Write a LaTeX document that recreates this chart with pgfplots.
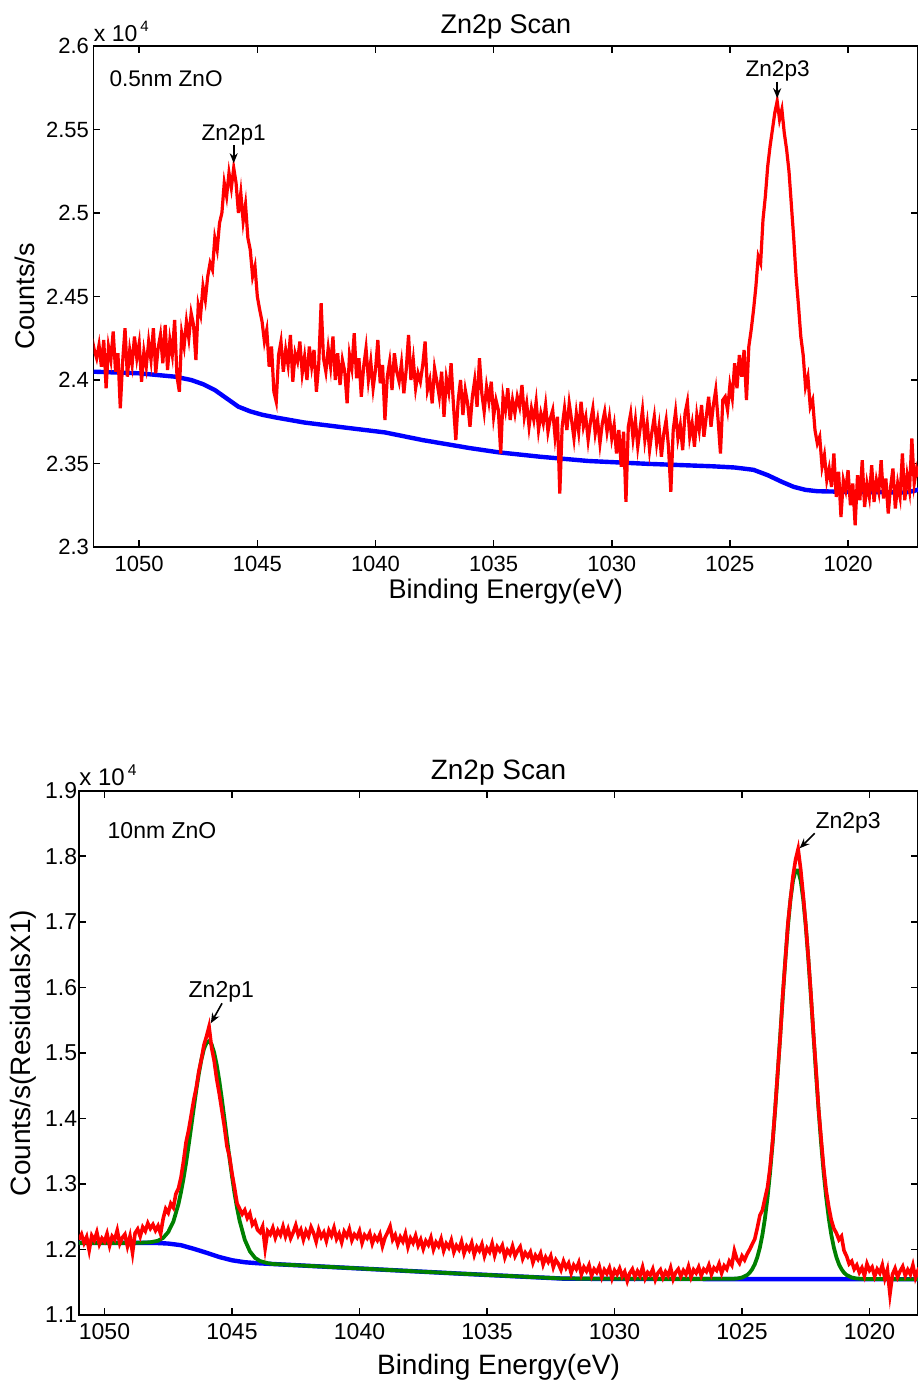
\documentclass[border=0pt]{standalone}
\usepackage{fontspec}
\setmainfont{Liberation Sans}
\usepackage{pgfplots}
\pgfplotsset{compat=1.18}
\usetikzlibrary{arrows.meta}
\definecolor{mred}{RGB}{255,0,0}
\definecolor{mblue}{RGB}{0,0,255}
\definecolor{mgreen}{RGB}{0,128,0}
\pgfplotsset{
  every axis title shift=0pt,
  xpsstyle/.style={
    scale only axis,
    x dir=reverse,
    axis line style={line width=0.9pt},
    every tick/.style={black, line width=0.8pt},
    major tick length=3.4pt,
    tick align=inside,
    /pgf/number format/assume math mode=true,
    /pgf/number format/1000 sep={},
    scaled x ticks=false, scaled y ticks=false,
    xtick={1020,1025,...,1050},
    clip mode=individual,
  }
}
\begin{document}
\begin{tikzpicture}
\useasboundingbox (0,0) rectangle (458.5pt,690pt);
% ---------------- TOP ----------------
\begin{axis}[xpsstyle,
  at={(46.8pt,416.5pt)}, anchor=south west,
  width=412.2pt, height=250.5pt,
  xmin=1017.04, xmax=1051.93, ymin=23000, ymax=26000,
  ytick={23000,23500,24000,24500,25000,25500,26000},
  yticklabels={2.3,2.35,2.4,2.45,2.5,2.55,2.6},
  tick label style={font=\fontsize{11}{13}\selectfont},
  xticklabel style={yshift=-1.2pt},
  yticklabel style={xshift=1.2pt},
  title={Zn2p Scan},
  title style={font=\fontsize{13.5}{15}\selectfont, at={(axis description cs:0.5,1.0253)}, anchor=base},
  xlabel={Binding Energy(eV)},
  xlabel style={font=\fontsize{13.5}{15}\selectfont, at={(axis description cs:0.5,-0.1024)}, anchor=base},
  ylabel={Counts/s},
  ylabel style={font=\fontsize{13.5}{15}\selectfont, at={(axis description cs:-0.0711,0.5)}, anchor=base},
]
\addplot[mblue, line width=2.2pt] coordinates {
(1052,24050)(1050,24040)(1048.5,24020)(1047.8,24000)(1047.3,23975)(1046.8,23940)(1046.3,23890)(1045.8,23840)(1045.3,23812)(1044.8,23792)(1044.2,23775)(1043,23745)(1041,23710)(1039.6,23686)(1038,23640)(1036,23592)(1034.8,23567)(1033,23540)(1031,23515)(1028.5,23498)(1025.7,23483)(1024.8,23476)(1024.0,23462)(1023.4,23430)(1022.8,23390)(1022.3,23360)(1021.8,23342)(1021.3,23334)(1020,23330)(1017.6,23326)(1017.2,23336)(1017,23345)
};
\addplot[mred, line width=1.6pt] coordinates {
(1052.0,24250)(1051.9,24180)(1051.8,24130)(1051.7,24210)(1051.6,24080)(1051.5,24240)(1051.4,23950)(1051.3,24200)(1051.2,24120)(1051.1,24290)
(1051.0,24050)(1050.9,24160)(1050.8,23830)(1050.7,24110)(1050.6,24310)(1050.5,24020)(1050.4,24180)(1050.3,24090)(1050.2,24260)(1050.1,24130)
(1050.0,24220)(1049.9,23990)(1049.8,24170)(1049.7,24080)(1049.6,24230)(1049.5,24120)(1049.4,24310)(1049.3,24040)(1049.2,24190)(1049.1,24270)
(1049.0,24100)(1048.9,24330)(1048.8,24060)(1048.7,24240)(1048.6,24150)(1048.5,24360)(1048.4,24020)(1048.3,23930)(1048.2,24280)(1048.1,24200)
(1048.0,24350)(1047.9,24250)(1047.8,24400)(1047.7,24330)(1047.6,24120)(1047.5,24450)(1047.4,24390)(1047.3,24560)(1047.2,24480)(1047.1,24620)
(1047.0,24700)(1046.9,24660)(1046.8,24850)(1046.7,24780)(1046.6,24940)(1046.5,25000)(1046.4,25180)(1046.3,25100)(1046.2,25240)(1046.1,25150)
(1046.0,25270)(1045.9,25180)(1045.8,25000)(1045.7,25120)(1045.6,24950)(1045.5,25050)(1045.4,24850)(1045.3,24780)(1045.2,24620)(1045.1,24680)
(1045.0,24500)(1044.9,24420)(1044.8,24350)(1044.7,24230)(1044.6,24300)(1044.5,24080)(1044.4,24200)(1044.3,23930)(1044.2,23870)(1044.1,24150)
(1044.0,24230)(1043.9,24050)(1043.8,24180)(1043.7,24090)(1043.6,24270)(1043.5,23990)(1043.4,24160)(1043.3,24110)(1043.2,24230)(1043.1,24040)
(1043.0,24140)(1042.9,24000)(1042.8,24200)(1042.7,24080)(1042.6,24180)(1042.5,23930)(1042.4,24100)(1042.3,24460)(1042.2,24130)(1042.1,24050)
(1042.0,24190)(1041.9,24080)(1041.8,24260)(1041.7,24000)(1041.6,24160)(1041.5,23970)(1041.4,24120)(1041.3,24050)(1041.2,23860)(1041.1,24150)
(1041.0,24070)(1040.9,24280)(1040.8,24010)(1040.7,24130)(1040.6,23900)(1040.5,24080)(1040.4,24190)(1040.3,24000)(1040.2,24110)(1040.1,23950)
(1040.0,24060)(1039.9,24240)(1039.8,23980)(1039.7,24090)(1039.6,23760)(1039.5,24020)(1039.4,24110)(1039.3,23940)(1039.2,24160)(1039.1,24050)
(1039.0,23990)(1038.9,24100)(1038.8,23920)(1038.7,24060)(1038.6,24270)(1038.5,24000)(1038.4,24120)(1038.3,23950)(1038.2,24040)(1038.1,23990)
(1038.0,24090)(1037.9,24230)(1037.8,23940)(1037.7,24000)(1037.6,23860)(1037.5,24070)(1037.4,23990)(1037.3,23900)(1037.2,24050)(1037.1,23780)
(1037.0,24010)(1036.9,23930)(1036.8,24100)(1036.7,23850)(1036.6,23640)(1036.5,23880)(1036.4,24000)(1036.3,23790)(1036.2,23940)(1036.1,23860)
(1036.0,23720)(1035.9,23900)(1035.8,24000)(1035.7,23840)(1035.6,24130)(1035.5,23920)(1035.4,23810)(1035.3,23960)(1035.2,23870)(1035.1,23990)
(1035.0,23780)(1034.9,23880)(1034.8,23820)(1034.7,23560)(1034.6,23900)(1034.5,23820)(1034.4,23950)(1034.3,23760)(1034.2,23880)(1034.1,23800)
(1034.0,23900)(1033.9,23840)(1033.8,23970)(1033.7,23780)(1033.6,23860)(1033.5,23720)(1033.4,23830)(1033.3,23760)(1033.2,23870)(1033.1,23700)
(1033.0,23800)(1032.9,23740)(1032.8,23850)(1032.7,23690)(1032.6,23770)(1032.5,23820)(1032.4,23660)(1032.3,23780)(1032.2,23320)(1032.1,23720)
(1032.0,23830)(1031.9,23700)(1031.8,23860)(1031.7,23760)(1031.6,23650)(1031.5,23800)(1031.4,23690)(1031.3,23870)(1031.2,23720)(1031.1,23780)
(1031.0,23640)(1030.9,23750)(1030.8,23830)(1030.7,23680)(1030.6,23760)(1030.5,23620)(1030.4,23740)(1030.3,23810)(1030.2,23690)(1030.1,23780)
(1030.0,23650)(1029.9,23730)(1029.8,23560)(1029.7,23700)(1029.6,23480)(1029.5,23690)(1029.4,23270)(1029.3,23720)(1029.2,23800)(1029.1,23650)
(1029.0,23760)(1028.9,23600)(1028.8,23710)(1028.7,23820)(1028.6,23640)(1028.5,23740)(1028.4,23580)(1028.3,23690)(1028.2,23780)(1028.1,23620)
(1028.0,23720)(1027.9,23540)(1027.8,23680)(1027.7,23760)(1027.6,23600)(1027.5,23330)(1027.4,23700)(1027.3,23810)(1027.2,23650)(1027.1,23730)
(1027.0,23580)(1026.9,23800)(1026.8,23870)(1026.7,23660)(1026.6,23740)(1026.5,23600)(1026.4,23790)(1026.3,23700)(1026.2,23850)(1026.1,23660)
(1026.0,23780)(1025.9,23900)(1025.8,23720)(1025.7,23850)(1025.6,23940)(1025.5,23760)(1025.4,23560)(1025.3,23880)(1025.2,23900)(1025.1,23820)
(1025.0,23970)(1024.9,23890)(1024.8,24100)(1024.7,23950)(1024.6,24150)(1024.5,24020)(1024.4,24180)(1024.3,23880)(1024.2,24200)(1024.1,24300)
(1024.0,24420)(1023.9,24560)(1023.8,24740)(1023.7,24700)(1023.6,24960)(1023.5,25100)(1023.4,25280)(1023.3,25400)(1023.2,25500)(1023.1,25600)
(1023.0,25670)(1022.9,25560)(1022.8,25620)(1022.7,25480)(1022.6,25380)(1022.5,25250)(1022.4,25050)(1022.3,24850)(1022.2,24620)(1022.1,24450)
(1022.0,24260)(1021.9,24150)(1021.8,23960)(1021.7,24020)(1021.6,23840)(1021.5,23880)(1021.4,23700)(1021.3,23620)(1021.2,23660)(1021.1,23480)
(1021.0,23550)(1020.9,23400)(1020.8,23470)(1020.7,23360)(1020.6,23560)(1020.5,23300)(1020.4,23450)(1020.3,23180)(1020.2,23400)(1020.1,23340)
(1020.0,23460)(1019.9,23250)(1019.8,23380)(1019.7,23130)(1019.6,23430)(1019.5,23280)(1019.4,23520)(1019.3,23240)(1019.2,23380)(1019.1,23300)
(1019.0,23490)(1018.9,23270)(1018.8,23400)(1018.7,23330)(1018.6,23520)(1018.5,23290)(1018.4,23410)(1018.3,23200)(1018.2,23360)(1018.1,23470)
(1018.0,23230)(1017.9,23380)(1017.8,23300)(1017.7,23560)(1017.6,23280)(1017.5,23430)(1017.4,23340)(1017.3,23650)(1017.2,23380)(1017.1,23470)
(1017.0,23420)
};
\node[anchor=base west, inner sep=0pt, font=\fontsize{11.5}{13}\selectfont, yshift=2.2pt] at (rel axis cs:0,1) {x 10\hspace{1.5pt}\raisebox{5pt}{\fontsize{7.5}{8}\selectfont 4}};
\node[anchor=base west, inner sep=0pt, font=\fontsize{11.3}{13}\selectfont] at (axis cs:1051.27,25760) {0.5nm ZnO};
\node[anchor=base, inner sep=0pt, font=\fontsize{11.3}{13}\selectfont] at (axis cs:1046.0,25437) {Zn2p1};
\node[anchor=base, inner sep=0pt, font=\fontsize{11.3}{13}\selectfont] at (axis cs:1022.98,25820) {Zn2p3};
\draw[-{Stealth[length=5pt,width=4pt]}, line width=0.8pt] (axis cs:1046.0,25407) -- (axis cs:1046.0,25298);
\draw[-{Stealth[length=5pt,width=4pt]}, line width=0.8pt] (axis cs:1023.0,25786) -- (axis cs:1023.0,25687);
\end{axis}
% ---------------- BOTTOM ----------------
\begin{axis}[xpsstyle,
  at={(39.5pt,32.5pt)}, anchor=south west,
  width=419.5pt, height=262.15pt,
  xmin=1018.1, xmax=1051.0, ymin=11000, ymax=19000,
  ytick={11000,12000,13000,14000,15000,16000,17000,18000,19000},
  yticklabels={1.1,1.2,1.3,1.4,1.5,1.6,1.7,1.8,1.9},
  tick label style={font=\fontsize{11.5}{13}\selectfont},
  xticklabel style={yshift=-0.6pt},
  yticklabel style={xshift=2.6pt},
  title={Zn2p Scan},
  title style={font=\fontsize{14}{16}\selectfont, at={(axis description cs:0.5,1.0223)}, anchor=base},
  xlabel={Binding Energy(eV)},
  xlabel style={font=\fontsize{14}{16}\selectfont, at={(axis description cs:0.5,-0.1144)}, anchor=base},
  ylabel={Counts/s(ResidualsX1)},
  ylabel style={font=\fontsize{14}{16}\selectfont, at={(axis description cs:-0.0572,0.5)}, anchor=base},
]
\addplot[mblue, line width=2.2pt] coordinates {
(1051,12100)(1048,12100)(1047.5,12090)(1047,12065)(1046.5,12010)(1046,11950)(1045.5,11885)(1045,11835)(1044.5,11805)(1044,11790)(1043.5,11780)(1040,11710)(1036,11630)(1032,11555)(1030,11550)(1018,11545)
};
\addplot[mgreen, line width=1.9pt] coordinates {
(1051.0,12100)(1049.5,12100)(1048.9,12101)(1048.5,12104)(1048.2,12110)(1047.9,12133)(1047.7,12176)(1047.5,12266)(1047.3,12424)(1047.1,12692)
(1047.0,12875)(1046.9,13084)(1046.8,13325)(1046.7,13590)(1046.6,13871)(1046.5,14155)(1046.4,14433)(1046.3,14682)(1046.2,14898)(1046.1,15060)
(1046.0,15153)(1045.9,15180)(1045.8,15128)(1045.7,15005)(1045.6,14818)(1045.5,14580)(1045.4,14303)(1045.3,14005)(1045.2,13701)(1045.1,13400)
(1045.0,13115)(1044.9,12854)(1044.8,12630)(1044.7,12437)(1044.5,12149)(1044.3,11973)(1044.1,11873)(1043.9,11823)(1043.6,11791)(1043.4,11778)
(1040,11710)(1036,11630)(1032,11556)(1028,11551)(1025.4,11552)(1025.2,11557)(1025.0,11572)(1024.8,11610)(1024.7,11646)(1024.6,11699)
(1024.5,11775)(1024.4,11883)(1024.3,12030)(1024.2,12225)(1024.1,12478)(1024.0,12795)(1023.9,13177)(1023.8,13626)(1023.7,14138)(1023.6,14695)
(1023.5,15281)(1023.4,15870)(1023.3,16431)(1023.2,16934)(1023.1,17341)(1023.0,17631)(1022.9,17781)(1022.8,17781)(1022.7,17631)(1022.6,17341)
(1022.5,16934)(1022.4,16431)(1022.3,15870)(1022.2,15281)(1022.1,14695)(1022.0,14138)(1021.9,13626)(1021.8,13177)(1021.7,12795)(1021.6,12478)
(1021.5,12225)(1021.4,12030)(1021.3,11883)(1021.2,11775)(1021.1,11699)(1021.0,11646)(1020.9,11610)(1020.7,11572)(1020.5,11557)(1020.2,11550)
(1018,11545)
};
\addplot[mred, line width=1.8pt] coordinates {
(1051.0,12150)(1050.9,12230)(1050.8,12100)(1050.7,12190)(1050.6,11990)(1050.5,12210)(1050.4,12140)(1050.3,12260)(1050.2,12080)(1050.1,12170)
(1050.0,12120)(1049.9,12240)(1049.8,12060)(1049.7,12200)(1049.6,12150)(1049.5,12290)(1049.4,12090)(1049.3,12180)(1049.2,12230)(1049.1,12050)
(1049.0,12200)(1048.9,11950)(1048.8,12250)(1048.7,12310)(1048.6,12200)(1048.5,12340)(1048.4,12280)(1048.3,12400)(1048.2,12320)(1048.1,12380)
(1048.0,12290)(1047.9,12360)(1047.8,12240)(1047.7,12470)(1047.6,12620)(1047.5,12560)(1047.4,12700)(1047.3,12640)(1047.2,12850)(1047.1,12930)
(1047.0,13100)(1046.9,13350)(1046.8,13640)(1046.7,13820)(1046.6,14050)(1046.5,14280)(1046.4,14470)(1046.3,14720)(1046.2,14900)(1046.1,15120)
(1046.0,15250)(1045.9,15400)(1045.8,15080)(1045.7,14880)(1045.6,14600)(1045.5,14380)(1045.4,14130)(1045.3,13880)(1045.2,13580)(1045.1,13420)
(1045.0,13160)(1044.9,12940)(1044.8,12700)(1044.7,12620)(1044.6,12540)(1044.5,12600)(1044.4,12480)(1044.3,12550)(1044.2,12380)(1044.1,12430)
(1044.0,12300)(1043.9,12260)(1043.8,12350)(1043.7,12020)(1043.6,12280)(1043.5,12230)(1043.4,12330)(1043.3,12180)(1043.2,12290)(1043.1,12220)
(1043.0,12350)(1042.9,12200)(1042.8,12310)(1042.7,12170)(1042.6,12260)(1042.5,12370)(1042.4,12220)(1042.3,12300)(1042.2,12150)(1042.1,12280)
(1042.0,12200)(1041.9,12340)(1041.8,12250)(1041.7,12120)(1041.6,12300)(1041.5,12190)(1041.4,12260)(1041.3,12130)(1041.2,12290)(1041.1,12210)
(1041.0,12330)(1040.9,12160)(1040.8,12240)(1040.7,12110)(1040.6,12270)(1040.5,12200)(1040.4,12310)(1040.3,12140)(1040.2,12230)(1040.1,12180)
(1040.0,12280)(1039.9,12100)(1039.8,12220)(1039.7,12170)(1039.6,12250)(1039.5,12090)(1039.4,12200)(1039.3,12140)(1039.2,12230)(1039.1,12050)
(1039.0,12180)(1038.9,12260)(1038.8,12350)(1038.7,12150)(1038.6,12220)(1038.5,12080)(1038.4,12190)(1038.3,12120)(1038.2,12240)(1038.1,12040)
(1038.0,12170)(1037.9,12100)(1037.8,12210)(1037.7,12060)(1037.6,12150)(1037.5,12010)(1037.4,12130)(1037.3,12070)(1037.2,12180)(1037.1,12000)
(1037.0,12110)(1036.9,12050)(1036.8,12160)(1036.7,11980)(1036.6,12090)(1036.5,12030)(1036.4,12140)(1036.3,11960)(1036.2,12060)(1036.1,12000)
(1036.0,12120)(1035.9,11940)(1035.8,12050)(1035.7,11990)(1035.6,12100)(1035.5,11920)(1035.4,12040)(1035.3,11980)(1035.2,12080)(1035.1,11900)
(1035.0,12020)(1034.9,11960)(1034.8,12090)(1034.7,11910)(1034.6,12040)(1034.5,11980)(1034.4,12060)(1034.3,11880)(1034.2,11990)(1034.1,11930)
(1034.0,12050)(1033.9,11900)(1033.8,11980)(1033.7,12040)(1033.6,11860)(1033.5,11950)(1033.4,11890)(1033.3,11960)(1033.2,11800)(1033.1,11910)
(1033.0,11850)(1032.9,11940)(1032.8,11770)(1032.7,11880)(1032.6,11810)(1032.5,11900)(1032.4,11730)(1032.3,11840)(1032.2,11780)(1032.1,11690)
(1032.0,11820)(1031.9,11720)(1031.8,11790)(1031.7,11640)(1031.6,11760)(1031.5,11700)(1031.4,11800)(1031.3,11620)(1031.2,11730)(1031.1,11670)
(1031.0,11760)(1030.9,11600)(1030.8,11700)(1030.7,11650)(1030.6,11740)(1030.5,11580)(1030.4,11690)(1030.3,11630)(1030.2,11720)(1030.1,11560)
(1030.0,11680)(1029.9,11620)(1029.8,11710)(1029.7,11590)(1029.6,11660)(1029.5,11520)(1029.4,11640)(1029.3,11700)(1029.2,11580)(1029.1,11670)
(1029.0,11600)(1028.9,11730)(1028.8,11560)(1028.7,11650)(1028.6,11610)(1028.5,11700)(1028.4,11540)(1028.3,11640)(1028.2,11690)(1028.1,11570)
(1028.0,11660)(1027.9,11600)(1027.8,11720)(1027.7,11550)(1027.6,11650)(1027.5,11700)(1027.4,11590)(1027.3,11680)(1027.2,11620)(1027.1,11740)
(1027.0,11580)(1026.9,11690)(1026.8,11640)(1026.7,11730)(1026.6,11600)(1026.5,11700)(1026.4,11660)(1026.3,11760)(1026.2,11620)(1026.1,11720)
(1026.0,11680)(1025.9,11780)(1025.8,11640)(1025.7,11750)(1025.6,11700)(1025.5,11820)(1025.4,11760)(1025.3,11980)(1025.2,11850)(1025.1,11790)
(1025.0,11900)(1024.9,11840)(1024.8,11930)(1024.7,12000)(1024.6,12080)(1024.5,12160)(1024.4,12330)(1024.3,12520)(1024.2,12600)(1024.1,12780)
(1024.0,12950)(1023.9,13250)(1023.8,13650)(1023.7,14150)(1023.6,14720)(1023.5,15250)(1023.4,15900)(1023.3,16420)(1023.2,16980)(1023.1,17350)
(1023.0,17700)(1022.9,17950)(1022.8,18110)(1022.7,17800)(1022.6,17400)(1022.5,16950)(1022.4,16450)(1022.3,15900)(1022.2,15300)(1022.1,14750)
(1022.0,14150)(1021.9,13700)(1021.8,13250)(1021.7,12900)(1021.6,12650)(1021.5,12450)(1021.4,12320)(1021.3,12250)(1021.2,12150)(1021.1,12200)
(1021.0,11980)(1020.9,11900)(1020.8,11780)(1020.7,11820)(1020.6,11700)(1020.5,11760)(1020.4,11650)(1020.3,11720)(1020.2,11600)(1020.1,11780)
(1020.0,11680)(1019.9,11730)(1019.8,11590)(1019.7,11700)(1019.6,11640)(1019.5,11760)(1019.4,11560)(1019.3,11690)(1019.2,11320)(1019.1,11620)
(1019.0,11710)(1018.9,11580)(1018.8,11670)(1018.7,11740)(1018.6,11600)(1018.5,11690)(1018.4,11620)(1018.3,11760)(1018.2,11570)(1018.1,11680)
(1018.0,11640)
};
\node[anchor=base west, inner sep=0pt, font=\fontsize{12}{13}\selectfont, yshift=2.4pt] at (rel axis cs:0,1) {x 10\hspace{1.5pt}\raisebox{5pt}{\fontsize{7.8}{8}\selectfont 4}};
\node[anchor=base west, inner sep=0pt, font=\fontsize{11.5}{13}\selectfont] at (axis cs:1049.89,18274) {10nm ZnO};
\node[anchor=base, inner sep=0pt, font=\fontsize{11.5}{13}\selectfont] at (axis cs:1045.42,15837) {Zn2p1};
\node[anchor=base, inner sep=0pt, font=\fontsize{11.5}{13}\selectfont] at (axis cs:1020.84,18426) {Zn2p3};
\draw[-{Stealth[length=5pt,width=4pt]}, line width=0.8pt] (axis cs:1045.39,15756) -- (axis cs:1045.83,15451);
\draw[-{Stealth[length=5pt,width=4pt]}, line width=0.8pt] (axis cs:1022.15,18350) -- (axis cs:1022.74,18121);
\end{axis}
\end{tikzpicture}
\end{document}
